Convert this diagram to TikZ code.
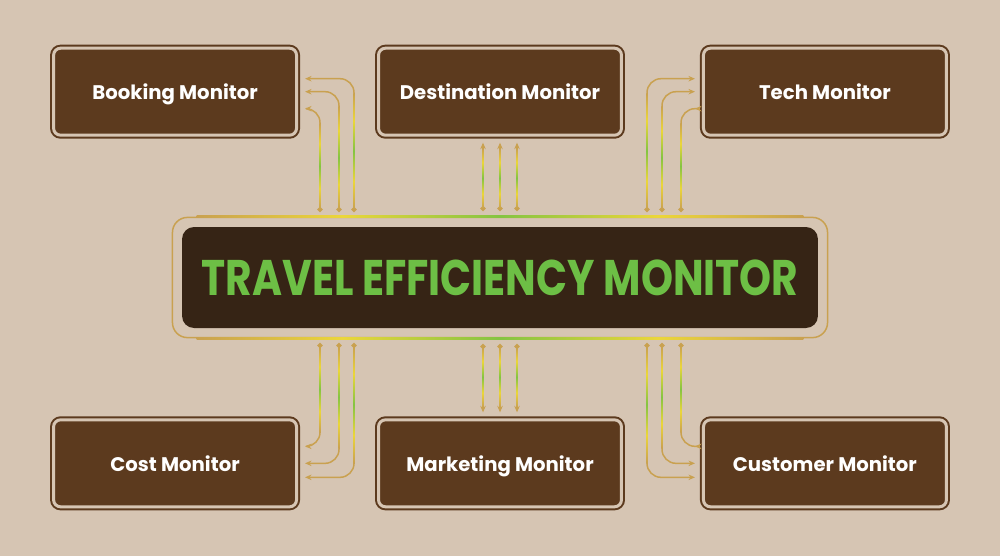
\documentclass[tikz,border=0pt]{standalone}
\usepackage{fontspec}
\setmainfont{Poppins}
\usetikzlibrary{positioning, arrows.meta, fit}

\definecolor{bgbeige}{HTML}{D6C5B3}
\definecolor{boxbrown}{HTML}{5C3A1E}
\definecolor{darkcore}{HTML}{362415}
\definecolor{wiregold}{HTML}{C9A150}
\definecolor{wireyellow}{HTML}{EBD63A}
\definecolor{wiregreen}{HTML}{84C442}
\definecolor{titlegreen}{HTML}{6DBF45}

\pgfdeclareverticalshading{wirev}{100bp}{color(0bp)=(wiregold); color(25bp)=(wiregold); color(37bp)=(wireyellow); color(50bp)=(wiregreen); color(63bp)=(wireyellow); color(75bp)=(wiregold); color(100bp)=(wiregold)}
\pgfdeclarehorizontalshading{wireh}{100bp}{color(0bp)=(wiregold); color(25bp)=(wiregold); color(37bp)=(wireyellow); color(50bp)=(wiregreen); color(63bp)=(wireyellow); color(75bp)=(wiregold); color(100bp)=(wiregold)}

\tikzset{
  monitor/.style={rectangle,draw=boxbrown,fill=boxbrown,double=bgbeige,double distance=0.06cm,line width=0.04cm,
    rounded corners=0.14cm,minimum width=4.86cm,minimum height=1.74cm,outer sep=0pt,text=white,
    text height=0.36cm,text depth=0.04cm,font=\bfseries\fontsize{11.2}{13}\selectfont},
  wire/.style={draw=wiregold,line width=0.03cm,rounded corners=0.28cm,{Circle[length=0.1cm]}-{Stealth[length=0.13cm,width=0.11cm]}},
}

\begin{document}
\begin{tikzpicture}[x=0.02cm,y=-0.02cm]
  \fill[bgbeige](0,0) rectangle (1000,556);
  \node(main)[fill=darkcore,rounded corners=0.24cm,minimum width=12.72cm,minimum height=2.02cm,inner sep=0pt] at (500,277.5)
    {\resizebox{11.94cm}{\height}{\color{titlegreen}\bfseries\fontsize{28.5}{30}\selectfont TRAVEL EFFICIENCY MONITOR}};
  \node(frame)[fit=(main),inner sep=0.185cm,draw=wiregold,line width=0.03cm,rounded corners=0.3cm]{};
%
  \node(destination)[monitor,above=1.83cm of main]{Destination Monitor};
  \node(booking)[monitor,left=1.64cm of destination]{Booking Monitor};
  \node(tech)[monitor,right=1.64cm of destination]{Tech Monitor};
%
  \node(marketing)[monitor,below=1.83cm of main]{Marketing Monitor};
  \node(cost)[monitor,left=1.64cm of marketing]{Cost Monitor};
  \node(customer)[monitor,right=1.64cm of marketing]{Customer Monitor};
%
  \coordinate(bk1) at (320,212);
  \coordinate(bk2) at (339,212);
  \coordinate(bk3) at (354,212);
  \coordinate(ds1) at (483,211);
  \coordinate(ds2) at (500,211);
  \coordinate(ds3) at (517,211);
  \coordinate(tc1) at (681,212);
  \coordinate(tc2) at (662,212);
  \coordinate(tc3) at (647,212);
  \coordinate(cs1) at (320,343);
  \coordinate(cs2) at (339,343);
  \coordinate(cs3) at (354,343);
  \coordinate(mk1) at (483,344);
  \coordinate(mk2) at (500,344);
  \coordinate(mk3) at (517,344);
  \coordinate(cu1) at (681,343);
  \coordinate(cu2) at (662,343);
  \coordinate(cu3) at (647,343);
%
\draw[wire](bk1) |- ([xshift=0.17cm,yshift=-0.34cm]booking.east);
\draw[wire](bk2) |- ([xshift=0.17cm]booking.east);
\draw[wire](bk3) |- ([xshift=0.17cm,yshift=0.26cm]booking.east);
\draw[wire](tc1) |- ([xshift=-0.17cm,yshift=-0.34cm]tech.west);
\draw[wire](tc2) |- ([xshift=-0.17cm]tech.west);
\draw[wire](tc3) |- ([xshift=-0.17cm,yshift=0.26cm]tech.west);
\draw[wire,shorten >=0.15cm](ds1) -- (ds1 |- destination.south);
\draw[wire,shorten >=0.15cm](ds2) -- (ds2 |- destination.south);
\draw[wire,shorten >=0.15cm](ds3) -- (ds3 |- destination.south);
%
\draw[wire](cs1) |- ([xshift=0.17cm,yshift=0.34cm]cost.east);
\draw[wire](cs2) |- ([xshift=0.17cm]cost.east);
\draw[wire](cs3) |- ([xshift=0.17cm,yshift=-0.28cm]cost.east);
\draw[wire](cu1) |- ([xshift=-0.17cm,yshift=0.34cm]customer.west);
\draw[wire](cu2) |- ([xshift=-0.17cm]customer.west);
\draw[wire](cu3) |- ([xshift=-0.17cm,yshift=-0.28cm]customer.west);
\draw[wire,shorten >=0.15cm](mk1) -- (mk1 |- marketing.north);
\draw[wire,shorten >=0.15cm](mk2) -- (mk2 |- marketing.north);
\draw[wire,shorten >=0.15cm](mk3) -- (mk3 |- marketing.north);
%
% colour run on the straight parts
\foreach \x/\ya/\yb in {320/123/209,339/106/209,354/93/209,681/123/209,662/106/209,647/93/209,
                        483/148/208,500/148/208,517/148/208,
                        320/346/432,339/346/448,354/346/463,681/346/432,662/346/448,647/346/463,
                        483/347/407,500/347/407,517/347/407}
  {\shade[shading=wirev](\x-0.75,\ya) rectangle (\x+0.75,\yb);}
\shade[shading=wireh]([xshift=0.5cm,yshift=-0.015cm]frame.north west) rectangle ([xshift=-0.5cm,yshift=0.015cm]frame.north east);
\shade[shading=wireh]([xshift=0.5cm,yshift=-0.015cm]frame.south west) rectangle ([xshift=-0.5cm,yshift=0.015cm]frame.south east);
\end{tikzpicture}
\end{document}
